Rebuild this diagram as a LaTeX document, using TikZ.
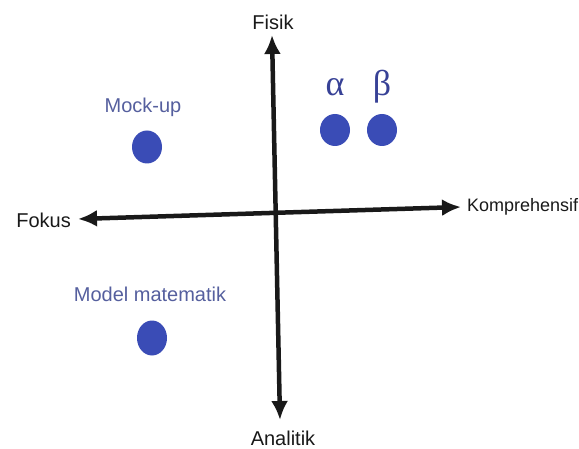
\documentclass[tikz,border=0pt]{standalone}
\usepackage{fontspec}
\setmainfont{Liberation Sans}
\newfontfamily\greekfont{Liberation Serif}
\usetikzlibrary{shapes,arrows.meta,shapes.geometric,positioning}

\definecolor{axisgray}{RGB}{25,25,25}
\definecolor{labelblue}{RGB}{85,95,158}
\definecolor{dotblue}{RGB}{58,76,182}
\definecolor{greekblue}{RGB}{55,65,150}

\begin{document}
\begin{tikzpicture}[x=1pt,y=1pt]
    \tikzset{
        axislabel/.style = {inner sep=0pt, text=axisgray, font=\fontsize{20}{24}\selectfont},
        line/.style = {draw=axisgray, line width=4.5pt, {Latex[length=19pt,width=17pt]}-{Latex[length=19pt,width=17pt]}},
        dot/.style = {ellipse, fill=dotblue, inner sep=0pt, minimum width=30pt, minimum height=33pt},
        dotlabel/.style = {inner sep=0pt, text=labelblue, font=\fontsize{20}{24}\selectfont},
        greeklabel/.style = {inner sep=0pt, text=greekblue, font=\greekfont\fontsize{36}{42}\selectfont},
    }
    \useasboundingbox (0,0) rectangle (579,448);

    \coordinate (top) at (272,413);
    \coordinate (bottom) at (280,28);
    \coordinate (left) at (78,229);
    \coordinate (right) at (461,241);

    \node[axislabel](fisik) at (273,426){Fisik};

    \node[axislabel](analitik) at (283,10){Analitik};

    \node[axislabel, anchor=east](fokus) at (71,228){Fokus};

    \node[axislabel, anchor=west, font=\fontsize{18}{22}\selectfont](kompre) at (467,241){Komprehensif};

    \node[dot](mockdot) at (147,301){};
    \node[dotlabel](mock)[above = 13pt of mockdot, xshift=-4pt]{Mock-up};

    \node[dot, minimum height=35pt](mathdot) at (152,110){};
    \node[dotlabel](math)[above = 18pt of mathdot, xshift=-2pt]{Model matematik};

    \node[dot, minimum height=32pt](alphadot) at (335,318){};
    \node[greeklabel](alpha)[above = 18pt of alphadot, anchor=base]{α};

    \node[dot, minimum height=32pt](betadot) at (382,318){};
    \node[greeklabel](beta)[above = 18pt of betadot, anchor=base]{β};

    \path [line] (bottom) -- (top);
    \path [line] (left) -- (right);

\end{tikzpicture}
\end{document}
